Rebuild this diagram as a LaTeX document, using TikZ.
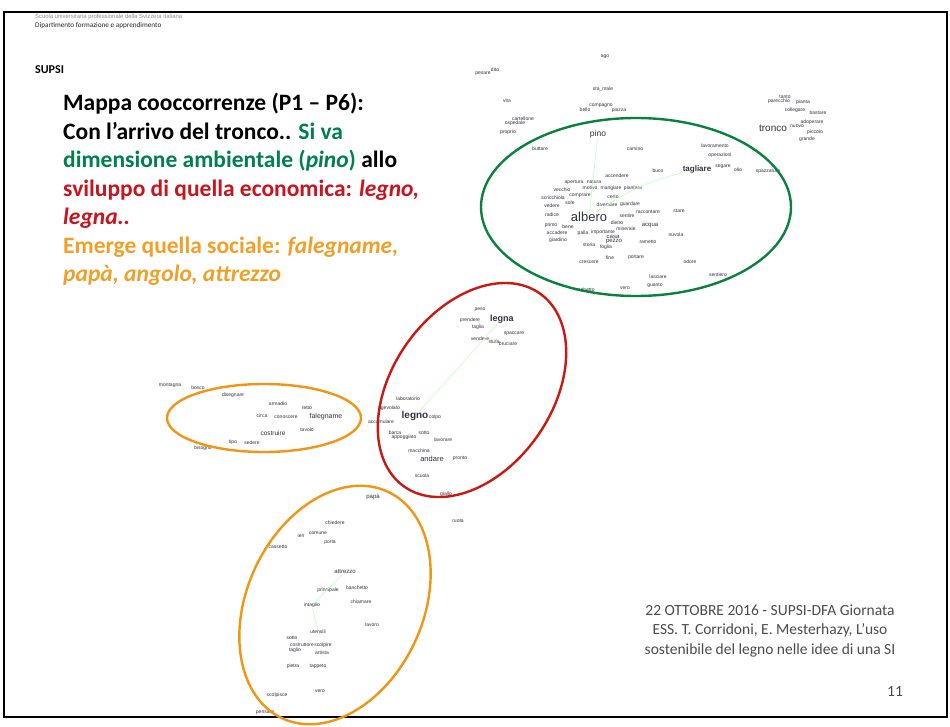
\documentclass[tikz,border=0pt]{standalone}
\usepackage{fontspec}
\setmainfont{Carlito}
\newfontfamily\wfont{Liberation Sans}
\definecolor{tgreen}{RGB}{0,128,80}
\definecolor{tred}{RGB}{200,20,30}
\definecolor{torange}{RGB}{240,160,40}
\definecolor{egreen}{RGB}{10,130,60}
\definecolor{ered}{RGB}{200,25,20}
\definecolor{eorange}{RGB}{240,150,20}
\definecolor{wgray}{RGB}{50,50,60}
\newcommand\wrd[4][5]{\node[wordst,font=\wfont\fontsize{#1}{#1}\selectfont] (#2) at (#3) {#4};}
\begin{document}
\begin{tikzpicture}[x=1pt,y=-1pt,
  wordst/.style={inner sep=0pt,text=wgray},
  title/.style={anchor=base west,inner sep=0pt,font=\bfseries\fontsize{23.5}{23.5}\selectfont},
  foot/.style={inner sep=0pt,text=black!70,font=\fontsize{15.5}{15.5}\selectfont},
  ell/.style={line width=2.4pt},
  faint/.style={draw=green!25!white,line width=0.6pt}]
\useasboundingbox (0,0) rectangle (950,726);
\fill[white] (0,0) rectangle (950,726);
\draw[line width=1.8pt] (4,12) rectangle (947,717);
% header
\node[anchor=west,inner sep=0pt,text=black!45,font=\wfont\fontsize{5.9}{5.9}\selectfont] (hd1) at (35,17) {Scuola universitaria professionale della Svizzera italiana};
\node[anchor=west,inner sep=0pt,text=black!85,font=\fontsize{7.2}{7.2}\selectfont] (hd2) at (35,26) {Dipartimento formazione e apprendimento};
\node[anchor=west,inner sep=0pt,font=\bfseries\fontsize{12}{12}\selectfont] (supsi) at (35,70) {SUPSI};
% title
\node[title] (t1) at (63,110) {Mappa cooccorrenze (P1 – P6):};
\node[title] (t2) at (63,139) {Con l’arrivo del tronco.. \textcolor{tgreen}{Si va}};
\node[title] (t3) at (63,167) {\textcolor{tgreen}{dimensione ambientale (\textit{pino})} allo};
\node[title,text=tred] (t4) at (63,196) {sviluppo di quella economica: \textit{legno,}};
\node[title,text=tred] (t5) at (63,224) {\textit{legna..}};
\node[title,text=torange] (t6) at (63,253) {Emerge quella sociale: \textit{falegname,}};
\node[title,text=torange] (t7) at (63,281) {\textit{papà, angolo, attrezzo}};
% footer
\node[foot] (f1) at (770,610) {22 OTTOBRE 2016 - SUPSI-DFA Giornata};
\node[foot] (f2) at (770,630) {ESS. T. Corridoni, E. Mesterhazy, L’uso};
\node[foot] (f3) at (770,650) {sostenibile del legno nelle idee di una SI};
\node[foot] (pg) at (895,692) {11};
% ---------- green cluster ----------
\wrd{ago}{605,57}{ago}
\wrd{pesare}{483,74}{pesare}
\wrd{dito}{495,70}{dito}
\wrd{stamale}{603,89}{sta\_male}
\wrd{vita}{507,101}{vita}
\wrd{bello}{585,110}{bello}
\wrd{compagno}{601,106}{compagno}
\wrd{piazza}{619,110}{piazza}
\wrd{cartellone}{523,119}{cartellone}
\wrd{ospedale}{515,123}{ospedale}
\wrd{proprio}{508,132}{proprio}
\wrd[8.5]{pino}{598,134}{pino}
\wrd{buttare}{540,149}{buttare}
\wrd{camino}{635,149}{camino}
\wrd{buco}{658,171}{buco}
\wrd{accendere}{617,176}{accendere}
\wrd[8]{tagliare}{697,169}{\textbf{tagliare}}
\wrd{segare}{723,167}{segare}
\wrd{olio}{738,170}{olio}
\wrd{spazzatura}{768,171}{spazzatura}
\wrd{lavoramento}{715,146}{lavoramento}
\wrd{operazioni}{720,155}{operazioni}
\wrd{tanto}{785,97}{tanto}
\wrd{parecchio}{779,101}{parecchio}
\wrd{pianta}{803,102}{pianta}
\wrd{collegare}{795,110}{collegare}
\wrd{bastare}{818,113}{bastare}
\wrd{adoperare}{812,122}{adoperare}
\wrd{nuovo}{797,126}{nuovo}
\wrd[10]{tronco}{773,128}{tronco}
\wrd{piccolo}{815,132}{piccolo}
\wrd{grande}{807,139}{grande}
\wrd{apertura}{574,182}{apertura}
\wrd{natura}{594,182}{natura}
\wrd{motivo}{590,188}{motivo}
\wrd{mangiare}{611,188}{mangiare}
\wrd{piantare}{633,188}{piantare}
\wrd{vecchio}{562,190}{vecchio}
\wrd{scricchiola}{553,198}{scricchiola}
\wrd{comprare}{580,196}{comprare}
\wrd{certo}{613,197}{certo}
\wrd{vedere}{552,206}{vedere}
\wrd{sole}{570,203}{sole}
\wrd{diventare}{607,205}{diventare}
\wrd{guardare}{630,204}{guardare}
\wrd{raccontare}{648,212}{raccontare}
\wrd{stare}{679,211}{stare}
\wrd{radice}{552,215}{radice}
\wrd[13]{albero}{589,217}{albero}
\wrd{sentire}{627,216}{sentire}
\wrd{dietro}{617,223}{dietro}
\wrd{minerale}{626,229}{minerale}
\wrd[6]{acqua}{650,226}{acqua}
\wrd{primo}{551,225}{primo}
\wrd{bene}{568,227}{bene}
\wrd{accadere}{557,233}{accadere}
\wrd{palla}{583,233}{palla}
\wrd{importante}{603,232}{importante}
\wrd[6]{casa}{613,237}{casa}
\wrd{giardino}{558,240}{giardino}
\wrd[6]{pezzo}{614,242}{pezzo}
\wrd{rametto}{648,242}{rametto}
\wrd{nuvola}{676,235}{nuvola}
\wrd{storia}{589,245}{storia}
\wrd{foglia}{606,247}{foglia}
\wrd{crescere}{589,262}{crescere}
\wrd{fine}{610,258}{fine}
\wrd{portare}{636,257}{portare}
\wrd{odore}{690,262}{odore}
\wrd{lasciare}{658,277}{lasciare}
\wrd{sentiero}{718,275}{sentiero}
\wrd{seghetto}{585,290}{seghetto}
\wrd{vero}{625,288}{vero}
\wrd{guanto}{655,285}{guanto}
% ---------- red cluster ----------
\wrd{peso}{480,310}{peso}
\wrd{prendere}{470,320}{prendere}
\wrd[9]{legna}{502,319}{\textbf{legna}}
\wrd{taglia}{478,327}{taglia}
\wrd{spaccare}{514,334}{spaccare}
\wrd{vendere}{480,339}{vendere}
\wrd{stufa}{494,342}{stufa}
\wrd{bruciare}{508,344}{bruciare}
\wrd{laboratorio}{408,399}{laboratorio}
\wrd{agevolato}{389,408}{agevolato}
\wrd[10]{legno}{415,416}{\textbf{legno}}
\wrd{colpo}{435,417}{colpo}
\wrd{accumulare}{381,422}{accumulare}
\wrd{barca}{395,433}{barca}
\wrd{appoggiato}{404,437}{appoggiato}
\wrd{sotto}{424,433}{sotto}
\wrd{lavorare}{443,440}{lavorare}
\wrd{macchina}{419,451}{macchina}
\wrd[7.5]{andare}{432,459}{andare}
\wrd{pronto}{460,458}{pronto}
\wrd{scuola}{422,476}{scuola}
\wrd{giallo}{446,494}{giallo}
\wrd{ruota}{458,521}{ruota}
% ---------- orange left ----------
\wrd{montagna}{170,385}{montagna}
\wrd{bosco}{198,388}{bosco}
\wrd{disegnare}{233,395}{disegnare}
\wrd{armadio}{278,404}{armadio}
\wrd{tetto}{307,408}{tetto}
\wrd{circa}{262,416}{circa}
\wrd{conoscere}{286,417}{conoscere}
\wrd[7]{falegname}{326,417}{falegname}
\wrd{tavolo}{307,430}{tavolo}
\wrd[6.5]{costruire}{273,433}{costruire}
\wrd{tipo}{233,442}{tipo}
\wrd{sedere}{252,443}{sedere}
\wrd{bisogno}{203,448}{bisogno}
% ---------- orange bottom ----------
\wrd[6]{papa}{373,497}{papà}
\wrd{chiedere}{335,523}{chiedere}
\wrd{comune}{318,533}{comune}
\wrd{ieri}{301,536}{ieri}
\wrd{porta}{330,542}{porta}
\wrd{cassetto}{278,547}{cassetto}
\wrd[6]{attrezzo}{345,572}{attrezzo}
\wrd{principale}{328,590}{principale}
\wrd{banchetto}{357,588}{banchetto}
\wrd{chiamare}{361,602}{chiamare}
\wrd{intaglio}{312,605}{intaglio}
\wrd{utensili}{318,632}{utensili}
\wrd{lavoro}{372,625}{lavoro}
\wrd{sottob}{292,638}{sotto}
\wrd{costruttore}{302,645}{costruttore}
\wrd{scolpire}{323,645}{scolpire}
\wrd{taglio}{295,650}{taglio}
\wrd{artista}{322,653}{artista}
\wrd{pietra}{293,666}{pietra}
\wrd{tappeto}{318,666}{tappeto}
\wrd{verob}{320,691}{vero}
\wrd{scolpisce}{277,695}{scolpisce}
\wrd{pensare}{265,713}{pensare}
% faint links
\draw[faint] (pino) -- (albero);
\draw[faint] (tagliare) to[bend right=10] (albero);
\draw[faint] (legna) -- (legno);
\draw[faint] (attrezzo) -- (intaglio);
\draw[faint] (intaglio) -- (utensili);
% ellipses
\draw[ell,egreen] (636,207) ellipse [x radius=155pt, y radius=89pt];
\draw[ell,ered,rotate around={55:(472,390)}] (472,390) ellipse [x radius=118pt, y radius=80pt];
\draw[ell,eorange] (264,418) ellipse [x radius=97pt, y radius=34pt];
\draw[ell,eorange,rotate around={65:(335,605)}] (335,605) ellipse [x radius=125pt, y radius=88pt];
\end{tikzpicture}
\end{document}
